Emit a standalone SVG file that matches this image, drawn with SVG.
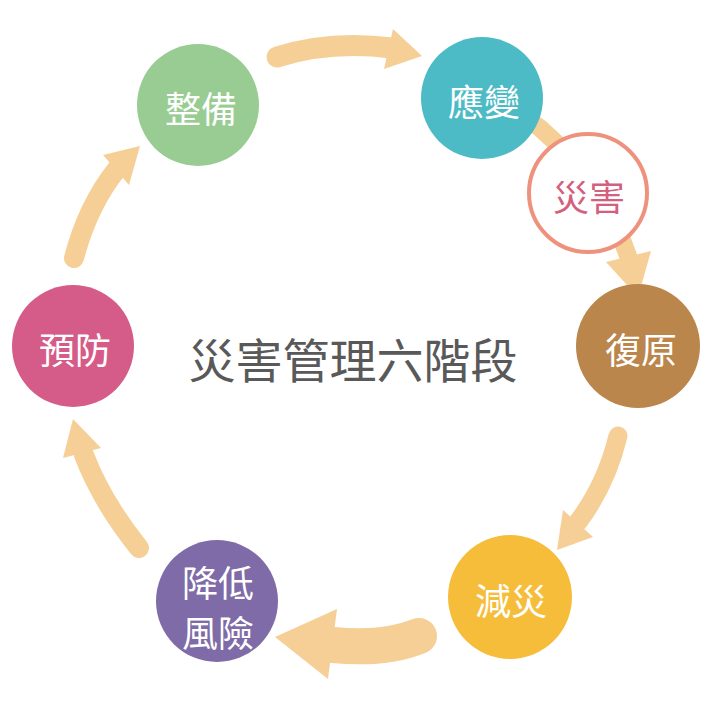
<svg xmlns="http://www.w3.org/2000/svg" width="709" height="709" viewBox="0 0 709 709">
<style>
.arr{fill:none;stroke:#F5CF95;stroke-linecap:round}
.head{fill:#F5CF95}
.lbl{font-family:"Noto Sans CJK TC","Noto Sans CJK SC",sans-serif;font-size:36px;fill:#fff;text-anchor:middle;dominant-baseline:central}
.title{font-family:"Noto Sans CJK TC","Noto Sans CJK SC",sans-serif;font-size:47px;fill:#595959;text-anchor:middle;dominant-baseline:central}
</style>
<rect width="709" height="709" fill="#fff"/>
<g id="connectors">
<path class="arr" d="M277,57 Q330,40 392,48" stroke-width="21"/>
<polygon class="head" points="393,29 422,56 384,69"/>
<path class="arr" d="M500,100 L540,128 Q605,185 628,256" stroke-width="18"/>
<polygon class="head" points="606,262 651,251 638,297"/>
<path class="arr" d="M618,436 Q606,485 578,522" stroke-width="19"/>
<polygon class="head" points="563,510 593,537 557,550"/>
<path class="arr" d="M419,636 Q385,650 333,645" stroke-width="36"/>
<polygon class="head" points="337,609 275,637 328,679"/>
<path class="arr" d="M139,548 Q102,502 84,455" stroke-width="20"/>
<polygon class="head" points="63,458 73,419 101,448"/>
<path class="arr" d="M74,258 Q88,205 117,169" stroke-width="20"/>
<polygon class="head" points="103,155 140,146 129,185"/>
</g>
<g id="n-zhengbei"><circle cx="198" cy="105" r="61" fill="#99CC93"/><text class="lbl" x="201" y="107">整備</text></g>
<g id="n-yingbian"><circle cx="482" cy="98" r="61" fill="#4DBBC5"/><text class="lbl" x="484" y="100">應變</text></g>
<g id="n-zaihai"><circle cx="588" cy="193" r="59" fill="#fff" stroke="#EE927E" stroke-width="4"/><text class="lbl" x="589" y="195" style="fill:#D2607E">災害</text></g>
<g id="n-fuyuan"><circle cx="638" cy="346" r="62" fill="#BA864B"/><text class="lbl" x="641" y="348">復原</text></g>
<g id="n-jianzai"><circle cx="510" cy="597" r="62" fill="#F6BD3A"/><text class="lbl" x="511" y="599">減災</text></g>
<g id="n-jiangdi"><circle cx="217" cy="601" r="61" fill="#7E6BA8"/><text class="lbl" x="218" y="581">降低</text><text class="lbl" x="218" y="631">風險</text></g>
<g id="n-yufang"><circle cx="73" cy="346" r="61" fill="#D55C88"/><text class="lbl" x="75" y="348">預防</text></g>
<g id="title"><text class="title" x="353" y="357">災害管理六階段</text></g>
</svg>
